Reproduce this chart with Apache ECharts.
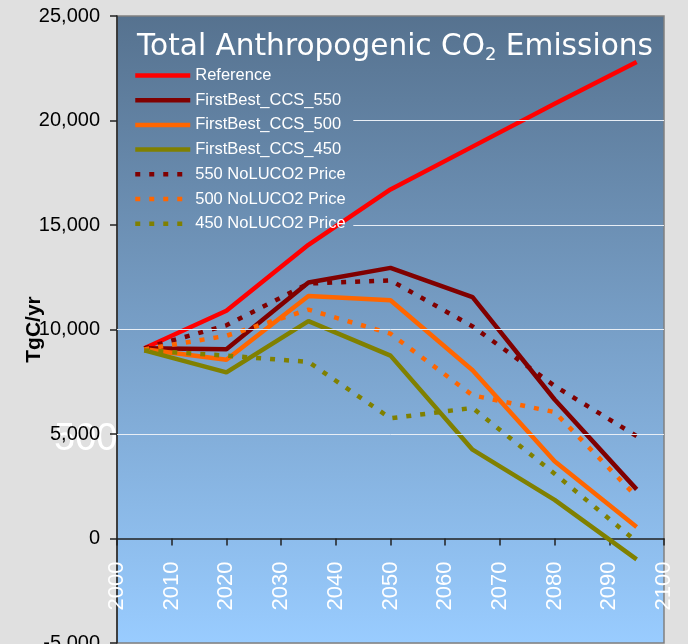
<!DOCTYPE html>
<html>
<head>
<meta charset="utf-8">
<script src="https://cdn.jsdelivr.net/npm/echarts@6/dist/echarts.min.js"></script>
<style>
  html, body { margin: 0; padding: 0; background: #e0e0e0; }
  #chart { width: 688px; height: 644px; }
</style>
</head>
<body>
<div id="chart"></div>
<script>
// 年（データ点）
const years = [2005, 2020, 2035, 2050, 2065, 2080, 2095];

// 各シナリオの排出量 (TgC/yr)
const reference = [9100, 10900, 14050, 16700, 18750, 20800, 22800];
const firstBest550 = [9100, 9050, 12250, 12950, 11550, 6650, 2350];
const firstBest500 = [9050, 8550, 11600, 11400, 8050, 3700, 550];
const firstBest450 = [9000, 7950, 10400, 8750, 4250, 1850, -1000];
const noLuco550 = [9100, 10200, 12200, 12350, 10150, 7300, 4900];
const noLuco500 = [9050, 9700, 10950, 9800, 6850, 6050, 2000];
const noLuco450 = [9000, 8750, 8450, 5750, 6250, 3100, -150];

const seriesNames = [
  'Reference', 'FirstBest_CCS_550', 'FirstBest_CCS_500', 'FirstBest_CCS_450',
  '550 NoLUCO2 Price', '500 NoLUCO2 Price', '450 NoLUCO2 Price'
];

// 目盛線（凡例の下に隠れる部分は開始年をずらす）
const gridLineValues = [5000, 10000, 15000, 20000];
const gridLineStart = [2000, 2000, 2043.2, 2043.2];

const yMin = -5000;
const yMax = 25000;

const el = document.getElementById('chart');
const chart = echarts.init(el);

const FONT = 'Liberation Sans, Arial, sans-serif';
const DASH = [5, 9];

// グリッド配置
const gridTop = 16;
const gridBottom = 1;
const gridHeight = 644 - gridTop - gridBottom;
// x軸を y=0 の位置へ移動するためのオフセット
const zeroOffset = -(gridHeight * (0 - yMin) / (yMax - yMin));

function toPairs(values) {
  return years.map((y, i) => [y, values[i]]);
}

function lineSeries(name, values, color, dashed) {
  return {
    name: name,
    type: 'line',
    symbol: 'none',
    z: 3,
    data: toPairs(values),
    lineStyle: { color: color, width: 4.5, type: dashed ? DASH : 'solid' },
    itemStyle: { color: color }
  };
}

// プロット領域のグラデーション
const plotBg = {
  type: 'linear', x: 0, y: 0, x2: 0, y2: 1,
  colorStops: [
    { offset: 0, color: '#56728f' },
    { offset: 1, color: '#99ccff' }
  ]
};

const option = {
  backgroundColor: '#e0e0e0',
  animation: false,
  title: {
    text: '{a|Total Anthropogenic CO}{s|2}{a| Emissions}',
    left: 137,
    top: 30,
    padding: 0,
    z: 10,
    textStyle: {
      fontWeight: 'normal',
      rich: {
        a: { color: '#fff', fontFamily: 'DejaVu Sans', fontWeight: 'normal', fontSize: 29.6, lineHeight: 34 },
        s: { color: '#fff', fontFamily: 'DejaVu Sans', fontWeight: 'normal', fontSize: 18, lineHeight: 18, verticalAlign: 'bottom' }
      }
    }
  },
  legend: {
    orient: 'vertical',
    left: 130,
    top: 61,
    padding: [6, 10, 8, 3],
    itemWidth: 55,
    itemHeight: 16,
    itemGap: 7.7,
    data: seriesNames,
    itemStyle: { opacity: 0 },
    lineStyle: { width: 4.5 },
    textStyle: { color: '#fff', fontFamily: FONT, fontSize: 16.5, lineHeight: 16 }
  },
  grid: {
    left: 117,
    right: 24,
    top: gridTop,
    bottom: gridBottom,
    outerBoundsMode: 'none',
    containLabel: false,
    show: true,
    backgroundColor: plotBg,
    borderColor: '#808080',
    borderWidth: 1.5
  },
  graphic: [
    {
      type: 'text',
      left: 54,
      top: 421,
      z: -10,
      style: { text: '500', fill: '#ffffff', font: '38px Liberation Sans' }
    }
  ],
  xAxis: {
    type: 'value',
    min: 2000,
    max: 2100,
    interval: 10,
    offset: zeroOffset,
    z: 3,
    axisLine: { onZero: false, lineStyle: { color: '#222', width: 1.5 } },
    axisTick: { show: true, length: 7, lineStyle: { color: '#222', width: 1.5 } },
    axisLabel: {
      rotate: 90,
      margin: 23,
      color: '#fff',
      fontFamily: FONT,
      fontSize: 22,
      formatter: v => String(v)
    },
    splitLine: { show: false }
  },
  yAxis: {
    type: 'value',
    min: yMin,
    max: yMax,
    interval: 5000,
    name: 'TgC/yr',
    nameLocation: 'middle',
    nameGap: 72,
    nameMoveOverlap: false,
    nameTextStyle: { color: '#000', fontFamily: FONT, fontSize: 21, fontWeight: 'bold' },
    axisLine: { show: true, lineStyle: { color: '#222', width: 1.5 } },
    axisTick: { show: true, length: 7, lineStyle: { color: '#222', width: 1.5 } },
    axisLabel: {
      margin: 17,
      color: '#000',
      fontFamily: FONT,
      fontSize: 20,
      formatter: v => v.toLocaleString('en-US')
    },
    splitLine: { show: false }
  },
  series: [
    {
      name: 'gridlines',
      type: 'line',
      z: 1,
      silent: true,
      data: [],
      markLine: {
        silent: true,
        symbol: 'none',
        animation: false,
        label: { show: false },
        lineStyle: { color: '#e8eef5', width: 1, type: 'solid' },
        emphasis: { disabled: true },
        data: gridLineValues.map((v, i) => [
          { coord: [gridLineStart[i], v] },
          { coord: [2100, v] }
        ])
      }
    },
    lineSeries(seriesNames[0], reference, '#ff0000', false),
    lineSeries(seriesNames[1], firstBest550, '#800000', false),
    lineSeries(seriesNames[2], firstBest500, '#ff6600', false),
    lineSeries(seriesNames[3], firstBest450, '#808000', false),
    lineSeries(seriesNames[4], noLuco550, '#800000', true),
    lineSeries(seriesNames[5], noLuco500, '#ff6600', true),
    lineSeries(seriesNames[6], noLuco450, '#808000', true)
  ]
};

chart.setOption(option);

window.addEventListener('resize', () => {
  try { chart.resize(); } catch {}
});
</script>
</body>
</html>
